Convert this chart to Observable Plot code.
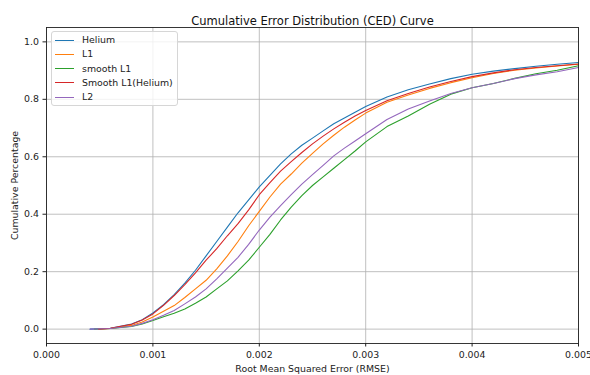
<!DOCTYPE html>
<html><head><meta charset="utf-8">
<script src="https://cdn.jsdelivr.net/npm/d3@7"></script>
<script src="https://cdn.jsdelivr.net/npm/@observablehq/plot@0.6"></script>
<style>
body{margin:0;background:#fff;}
#wrap{position:relative;width:590px;height:375px;font-family:"DejaVu Sans",sans-serif;}
#legend{position:absolute;left:51px;top:31px;width:127px;height:75px;border:1px solid #d6d6d6;border-radius:3px;background:rgba(255,255,255,0.8);box-sizing:border-box;}
.row{position:absolute;left:0;height:14px;font-size:9.4px;color:#222;white-space:nowrap;line-height:14px;}
.sw{position:absolute;left:3px;top:6.5px;width:19px;height:0;border-top:1.2px solid;}
.lab{position:absolute;left:30px;top:0;}
</style>
</head><body>
<div id="wrap"><div id="chart"></div><div id="legend"></div></div>
<script>
const title = "Cumulative Error Distribution (CED) Curve";
const xLabel = "Root Mean Squared Error (RMSE)";
const yLabel = "Cumulative Percentage";
const seriesNames = ["Helium", "L1", "smooth L1", "Smooth L1(Helium)", "L2"];
const seriesColors = ["#1f77b4", "#ff7f0e", "#2ca02c", "#d62728", "#9467bd"];
const xTicks = [0, 0.001, 0.002, 0.003, 0.004, 0.005];
const yTicks = [0, 0.2, 0.4, 0.6, 0.8, 1.0];
const startX = [0.00041, 0.00049, 0.00045, 0.00049, 0.00041];
const xGrid = [0.0006, 0.0008, 0.0009, 0.001, 0.0011, 0.0012, 0.0013, 0.0014, 0.0015, 0.0016, 0.0017, 0.0018, 0.0019, 0.002, 0.0021, 0.0022, 0.0023, 0.0024, 0.0025, 0.0026, 0.0027, 0.0028, 0.0029, 0.003, 0.0032, 0.0034, 0.0036, 0.0038, 0.004, 0.0042, 0.0044, 0.0046, 0.0048, 0.005];
const helium = [0.003,0.018,0.033,0.056,0.085,0.12,0.16,0.205,0.255,0.305,0.355,0.405,0.45,0.495,0.535,0.575,0.61,0.64,0.665,0.69,0.715,0.735,0.755,0.775,0.808,0.833,0.853,0.872,0.887,0.898,0.907,0.915,0.922,0.928];
const l1 = [0.002,0.013,0.025,0.042,0.062,0.082,0.11,0.14,0.17,0.21,0.255,0.305,0.36,0.41,0.46,0.505,0.54,0.578,0.612,0.645,0.675,0.703,0.728,0.752,0.79,0.815,0.838,0.858,0.875,0.89,0.901,0.909,0.916,0.922];
const smoothL1 = [0.002,0.009,0.018,0.03,0.043,0.055,0.07,0.09,0.112,0.14,0.168,0.203,0.24,0.285,0.33,0.38,0.425,0.465,0.5,0.53,0.56,0.59,0.62,0.652,0.705,0.742,0.783,0.818,0.84,0.855,0.873,0.889,0.901,0.917];
const smoothL1Helium = [0.003,0.017,0.032,0.053,0.083,0.117,0.155,0.196,0.24,0.28,0.325,0.367,0.415,0.468,0.51,0.55,0.583,0.615,0.645,0.672,0.697,0.72,0.742,0.761,0.795,0.82,0.843,0.862,0.879,0.892,0.903,0.911,0.917,0.923];
const l2 = [0.002,0.01,0.02,0.033,0.048,0.065,0.088,0.112,0.14,0.175,0.212,0.25,0.295,0.345,0.39,0.43,0.468,0.505,0.538,0.57,0.603,0.63,0.655,0.68,0.73,0.766,0.794,0.82,0.84,0.855,0.872,0.885,0.896,0.911];

const seriesValues = [helium, l1, smoothL1, smoothL1Helium, l2];
const data = [];
seriesNames.forEach((name, i) => {
  data.push({series: name, x: startX[i], y: 0});
  xGrid.forEach((x, j) => data.push({series: name, x, y: seriesValues[i][j]}));
});

const chart = Plot.plot({
  width: 590, height: 375,
  marginTop: 27, marginBottom: 32, marginLeft: 46, marginRight: 12,
  style: {fontFamily: "DejaVu Sans, sans-serif", fontSize: "9.4px", color: "#222", background: "#fff"},
  x: {domain: [0, 0.005]},
  y: {domain: [-0.05, 1.05]},
  color: {domain: seriesNames, range: seriesColors},
  marks: [
    Plot.gridX(xTicks, {stroke: "#b0b0b0", strokeOpacity: 1, strokeWidth: 0.8}),
    Plot.gridY(yTicks, {stroke: "#b0b0b0", strokeOpacity: 1, strokeWidth: 0.8}),
    Plot.line(data, {x: "x", y: "y", z: "series", stroke: "series", strokeWidth: 1.1}),
    Plot.frame({stroke: "#222", strokeWidth: 0.9}),
    Plot.axisX(xTicks, {tickFormat: d3.format(".3f"), tickSize: 3.5, tickPadding: 4, label: xLabel, labelAnchor: "center", labelOffset: 28, labelArrow: "none"}),
    Plot.axisY(yTicks, {tickFormat: d3.format(".1f"), tickSize: 3.5, tickPadding: 4, label: yLabel, labelAnchor: "center", labelOffset: 35, labelArrow: "none"}),
    Plot.text([title], {frameAnchor: "top", dy: -10.5, fontSize: 11.5, fill: "#111", text: d => d})
  ]
});
document.getElementById("chart").appendChild(chart);

const legend = document.getElementById("legend");
seriesNames.forEach((name, i) => {
  const row = document.createElement("div");
  row.className = "row";
  row.style.top = (1 + 14.3 * i) + "px";
  row.style.width = "100%";
  row.innerHTML = `<span class="sw" style="border-color:${seriesColors[i]}"></span><span class="lab">${name}</span>`;
  legend.appendChild(row);
});
</script>
</body></html>
